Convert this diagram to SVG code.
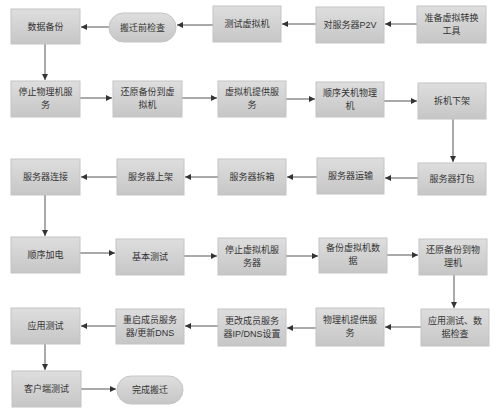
<svg xmlns="http://www.w3.org/2000/svg" width="500" height="420" viewBox="0 0 500 420">
<defs>
<linearGradient id="g" x1="0" y1="0" x2="0" y2="1">
<stop offset="0" stop-color="#dedede"/>
<stop offset="1" stop-color="#c6c6c6"/>
</linearGradient>
<marker id="ah" viewBox="0 0 10 10" refX="10" refY="5" markerWidth="6" markerHeight="6" orient="auto" markerUnits="userSpaceOnUse">
<path d="M0,0 L10,5 L0,10 z" fill="#333"/>
</marker>
</defs>
<style>
.n rect{fill:url(#g);stroke:#c4c4c4;stroke-width:1}
.n text{font-family:"Liberation Sans","Noto Sans CJK SC",sans-serif;font-size:9px;fill:#333;text-anchor:middle}
#edges line{stroke:#555;stroke-width:1;marker-end:url(#ah)}
</style>
<rect width="500" height="420" fill="#fff"/>
<g id="edges">
<line x1="417" y1="24" x2="385" y2="24"/>
<line x1="316" y1="24" x2="282" y2="24"/>
<line x1="213" y1="25" x2="177" y2="25"/>
<line x1="109" y1="27" x2="81" y2="27"/>
<line x1="45" y1="44" x2="45" y2="80"/>
<line x1="80" y1="98" x2="112" y2="98"/>
<line x1="182" y1="98" x2="217" y2="98"/>
<line x1="286" y1="99" x2="315" y2="99"/>
<line x1="384" y1="101" x2="417" y2="101"/>
<line x1="453" y1="119" x2="453" y2="162"/>
<line x1="418" y1="178" x2="385" y2="178"/>
<line x1="317" y1="177" x2="287" y2="177"/>
<line x1="218" y1="177" x2="185" y2="177"/>
<line x1="117" y1="177" x2="81" y2="177"/>
<line x1="45" y1="195" x2="45" y2="236"/>
<line x1="80" y1="253" x2="115" y2="253"/>
<line x1="184" y1="256" x2="217" y2="256"/>
<line x1="286" y1="256" x2="318" y2="256"/>
<line x1="387" y1="255" x2="418" y2="255"/>
<line x1="454" y1="275" x2="454" y2="308"/>
<line x1="421" y1="327" x2="385" y2="327"/>
<line x1="316" y1="328" x2="287" y2="328"/>
<line x1="218" y1="326" x2="185" y2="326"/>
<line x1="116" y1="326" x2="81" y2="326"/>
<line x1="45" y1="344" x2="45" y2="370"/>
<line x1="81" y1="389" x2="116" y2="389"/>
</g>
<g id="n1" class="n"><rect x="417" y="6" width="69" height="37"/><text x="451.5" y="21">准备虚拟转换</text><text x="451.5" y="34">工具</text></g>
<g id="n2" class="n"><rect x="316" y="7" width="68" height="36"/><text x="350" y="28">对服务器P2V</text></g>
<g id="n3" class="n"><rect x="213" y="6" width="68" height="36"/><text x="247" y="27">测试虚拟机</text></g>
<g id="n4" class="n"><rect x="109" y="13" width="67" height="29" rx="14.5" ry="14.5"/><text x="142.5" y="30.5">搬迁前检查</text></g>
<g id="n5" class="n"><rect x="11" y="9" width="69" height="35"/><text x="45.5" y="30">数据备份</text></g>
<g id="n6" class="n"><rect x="11" y="81" width="69" height="36"/><text x="45.5" y="95">停止物理机服</text><text x="45.5" y="108">务</text></g>
<g id="n7" class="n"><rect x="113" y="81" width="69" height="36"/><text x="147.5" y="95">还原备份到虚</text><text x="147.5" y="108">拟机</text></g>
<g id="n8" class="n"><rect x="218" y="81" width="68" height="36"/><text x="252" y="95">虚拟机提供服</text><text x="252" y="108">务</text></g>
<g id="n9" class="n"><rect x="316" y="82" width="68" height="35"/><text x="350" y="96">顺序关机物理</text><text x="350" y="109">机</text></g>
<g id="n10" class="n"><rect x="418" y="83" width="68" height="36"/><text x="452" y="104">拆机下架</text></g>
<g id="n11" class="n"><rect x="418" y="163" width="68" height="32"/><text x="452" y="182">服务器打包</text></g>
<g id="n12" class="n"><rect x="317" y="158" width="67" height="36"/><text x="350.5" y="179">服务器运输</text></g>
<g id="n13" class="n"><rect x="218" y="159" width="68" height="36"/><text x="252" y="180">服务器拆箱</text></g>
<g id="n14" class="n"><rect x="117" y="159" width="67" height="36"/><text x="150.5" y="180">服务器上架</text></g>
<g id="n15" class="n"><rect x="11" y="159" width="69" height="36"/><text x="45.5" y="180">服务器连接</text></g>
<g id="n16" class="n"><rect x="11" y="237" width="69" height="36"/><text x="45.5" y="258">顺序加电</text></g>
<g id="n17" class="n"><rect x="116" y="239" width="68" height="36"/><text x="150" y="260">基本测试</text></g>
<g id="n18" class="n"><rect x="218" y="238" width="68" height="37"/><text x="252" y="253">停止虚拟机服</text><text x="252" y="266">务器</text></g>
<g id="n19" class="n"><rect x="319" y="238" width="68" height="35"/><text x="353" y="251">备份虚拟机数</text><text x="353" y="264">据</text></g>
<g id="n20" class="n"><rect x="419" y="239" width="68" height="36"/><text x="453" y="253">还原备份到物</text><text x="453" y="266">理机</text></g>
<g id="n21" class="n"><rect x="421" y="309" width="68" height="37"/><text x="455" y="324">应用测试、数</text><text x="455" y="337">据检查</text></g>
<g id="n22" class="n"><rect x="316" y="308" width="68" height="38"/><text x="350" y="323">物理机提供服</text><text x="350" y="336">务</text></g>
<g id="n23" class="n"><rect x="218" y="309" width="68" height="37"/><text x="252" y="324">更改成员服务</text><text x="252" y="337">器IP/DNS设置</text></g>
<g id="n24" class="n"><rect x="116" y="309" width="68" height="35"/><text x="150" y="323">重启成员服务</text><text x="150" y="336">器/更新DNS</text></g>
<g id="n25" class="n"><rect x="11" y="308" width="69" height="36"/><text x="45.5" y="329">应用测试</text></g>
<g id="n26" class="n"><rect x="12" y="371" width="69" height="36"/><text x="46.5" y="392">客户端测试</text></g>
<g id="n27" class="n"><rect x="117" y="376" width="66" height="28" rx="14" ry="14"/><text x="150" y="393">完成搬迁</text></g>
</svg>
